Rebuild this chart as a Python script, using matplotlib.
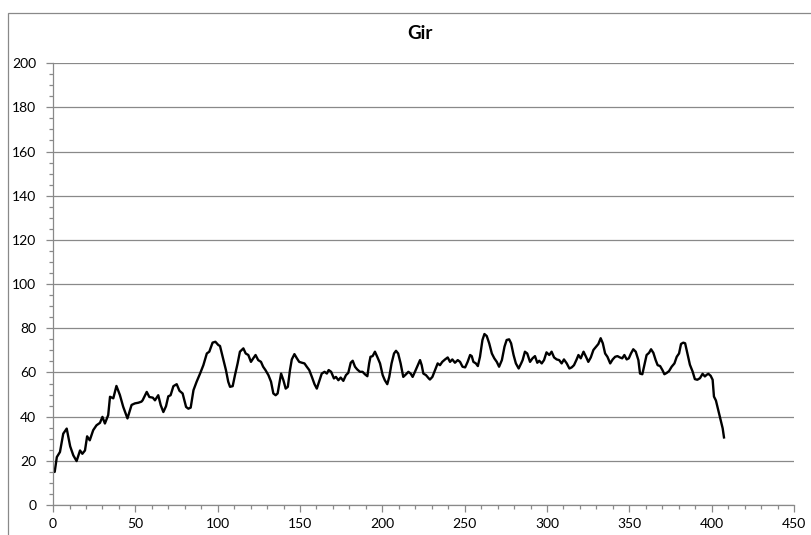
import matplotlib
matplotlib.use("Agg")
import matplotlib.pyplot as plt
from matplotlib.patches import Rectangle
from matplotlib.ticker import MultipleLocator

# values
x = [0, 1, 2.3, 4.2, 6.2, 8.3, 10.4, 12.3, 14.3, 16.4, 17.8, 19.4, 20.7, 22.3, 24.4,
     26.4, 28.5, 30, 31.5, 33.5, 34.6, 36.6, 38.5, 40.6, 42.6, 45.2, 47.7, 49.7, 51.8,
     53.7, 54.4, 56.9, 58.5, 60.6, 61.9, 63.9, 65.4, 67, 68.6, 70, 71.4, 73.1, 75.1,
     76.8, 78.7, 80.8, 82.2, 83.6, 85.3, 87.2, 89.3, 91.3, 93.4, 94.9, 96.9, 98.6,
     100.4, 101.4, 103, 105, 106.4, 107.5, 109.1, 110.5, 112.1, 113.5, 115.6, 117,
     118.6, 120.2, 121.6, 123, 124.6, 126.3, 127.6, 129, 130.8, 132.4, 133.8, 135.2,
     136.4, 138.5, 139.9, 141.3, 142.6, 143.9, 145, 146.6, 148.1, 149.5, 151.2, 152.7,
     154.1, 155.6, 157.2, 158.8, 160.2, 161.6, 163.2, 164.9, 166.3, 167.4, 168.9, 170.6,
     171.8, 173.3, 174.7, 176.3, 177.9, 179.3, 180.8, 182, 183.4, 184.7, 186.4, 188,
     189.4, 190.9, 192, 192.8, 194.1, 195.5, 196.9, 198.6, 200.2, 201.5, 203, 204.2,
     205.6, 207.1, 208.3, 209.6, 211.1, 212.7, 214.4, 215.8, 217.2, 218.4, 219.8, 221.3,
     222.9, 223.9, 224.9, 226.5, 228.2, 228.9, 230.4, 232, 233.6, 235, 236.4, 238.1,
     239.7, 241.1, 242.5, 244.1, 245.8, 247.2, 248.7, 250.3, 251.8, 253.3, 254.3, 255.3,
     256.8, 258, 259.3, 260.8, 262, 263.4, 264.9, 266.5, 268, 269.5, 270.9, 272.6,
     274.2, 275.5, 277, 278.2, 279.7, 281.1, 282.8, 284.3, 285.2, 286.6, 288, 289.7,
     291.2, 292.7, 294.1, 295.3, 296.8, 298.2, 299.7, 301.4, 302.8, 304.3, 305.9, 307.4,
     308.9, 310.3, 312, 313.6, 315, 316.4, 318, 319.1, 320.5, 322.2, 323.7, 325.1,
     326.6, 328.2, 329.9, 331.2, 332.6, 333.9, 335.3, 336.7, 338.4, 339.9, 341.4, 342.8,
     344.3, 345.7, 347, 348.4, 349.7, 351, 352.4, 353.9, 355.5, 356.5, 357.9, 359.1,
     360.5, 362, 363.2, 364.6, 366, 367.2, 368.7, 370.1, 371.3, 372.7, 374.1, 375.7,
     377.4, 378.8, 380.2, 381.4, 382.8, 383.9, 385.5, 386.8, 388.4, 389.8, 391.3, 392.9,
     394.5, 395.9, 396.9, 398, 399.4, 400.6, 401.4, 402.6, 404, 405.5, 406.7, 407.5]
y = [15, 15, 21.7, 24, 32.3, 34.6, 26.6, 22.5, 19.9, 24.7, 23.2, 24.7, 31.1, 29.3, 33.9,
     36.1, 37.2, 39.9, 36.9, 40.7, 49, 48.3, 53.9, 49.8, 44.5, 39.2, 45.3, 46, 46.3,
     46.8, 47.4, 51.2, 48.9, 48.6, 47.4, 49.7, 45.2, 42.1, 44.7, 49.2, 49.7, 53.8, 54.7,
     51.7, 50.5, 44.4, 43.6, 44.1, 52, 55.8, 59.5, 63.3, 68.6, 69.4, 73.5, 73.9,
     72.4, 72, 67.1, 61.1, 55.8, 53.5, 53.8, 58.8, 64.1, 69.4, 70.9, 68.6,
     67.9, 64.8, 66.4, 67.9, 65.6, 64.8, 62.6, 61.1, 58.8, 55.8, 50.5, 49.7,
     50.5, 59.5, 56.5, 52.7, 53.5, 61.1, 65.9, 68.3, 66.4, 64.8, 64.4, 64.1,
     62.6, 61.1, 58, 54.7, 52.7, 55.8, 59.5, 60.3, 59.5, 61.1, 60.3, 57.3,
     58, 56.5, 57.7, 56.2, 58.8, 59.8, 64.4, 65.3, 62.6, 61.4, 60.3, 60.3,
     59.2, 58.3, 64.1, 67.1, 67.4, 69.4, 67.1, 64.1, 58.8, 56.5, 54.7, 58,
     64.1, 68.6, 69.8, 68.6, 64.1, 58, 59.2, 60.3, 59.5, 58, 60.3, 62.9,
     65.6, 63.3, 59.5, 58.8, 57.3, 56.8, 58, 61.1, 64.1, 63.3, 64.8, 65.9,
     66.8, 64.8, 65.9, 64.4, 65.6, 64.8, 62.6, 62.3, 64.8, 67.9, 67.4, 64.8,
     64.1, 62.9, 67.1, 74.7, 77.4, 76.5, 73.2, 68.6, 66.4, 64.8, 62.6, 65.6,
     71.7, 74.7, 75, 73.2, 67.9, 64.1, 61.8, 64.1, 65.6, 69.4, 68.6, 64.8,
     66.4, 67.4, 64.4, 65.3, 64.1, 65.6, 69.1, 67.9, 69.4, 66.8, 65.9, 65.6,
     64.1, 65.9, 64.1, 61.8, 62.3, 63.3, 65.9, 67.9, 66.4, 69.4, 67.1, 64.8,
     66.8, 70.2, 71.7, 72.9, 75.5, 73.2, 68.6, 67.1, 64.1, 65.9, 67.1, 67.4,
     66.8, 66.4, 67.9, 65.9, 66.4, 68.6, 70.5, 69.4, 65.6, 59.5, 59.2, 63.3,
     67.9, 68.9, 70.5, 68.9, 65.6, 63.3, 62.9, 61.1, 59.2, 59.8, 60.6, 62.6,
     64.1, 67.1, 68.6, 72.9, 73.5, 73.2, 67.9, 63.5, 60.5, 57, 56.7, 57.4,
     59.4, 58.2, 58.9, 59.4, 58.5, 56.7, 49.1, 47.3, 43, 38.5, 34.7, 30.6]

plt.rcParams['font.family'] = ['Lato', 'DejaVu Sans']
grey = "#898989"

fig = plt.figure(figsize=(8.11, 5.35), dpi=100)
# chart area border
fig.patches.append(Rectangle((8 / 811, -0.05), 1.0, 0.976 + 0.05, transform=fig.transFigure,
                             fill=False, edgecolor=grey, linewidth=0.9))

ax = fig.add_axes([0.0654, 0.056, 0.9136, 0.826])
ax.plot(x, y, color="black", linewidth=1.7)

ax.set_xlim(0, 450)
ax.set_ylim(0, 200)
ax.xaxis.set_major_locator(MultipleLocator(50))
ax.xaxis.set_minor_locator(MultipleLocator(10))
ax.yaxis.set_major_locator(MultipleLocator(20))
ax.yaxis.set_minor_locator(MultipleLocator(5))

ax.grid(axis="y", which="major", color=grey, linewidth=0.9)
ax.set_axisbelow(True)
for side in ["top", "right"]:
    ax.spines[side].set_visible(False)
for side in ["left", "bottom"]:
    ax.spines[side].set_color(grey)
    ax.spines[side].set_linewidth(0.9)

ax.tick_params(which="major", length=5, width=0.9, color=grey, labelsize=10,
               labelcolor="black")
ax.tick_params(which="minor", length=3, width=0.9, color=grey)
ax.tick_params(axis="y", pad=7)
ax.tick_params(axis="x", pad=4)

fig.text(0.518, 0.938, "Gir", ha="center", va="center", fontsize=13.5, fontweight="bold")

fig.savefig("out.png", dpi=100)
